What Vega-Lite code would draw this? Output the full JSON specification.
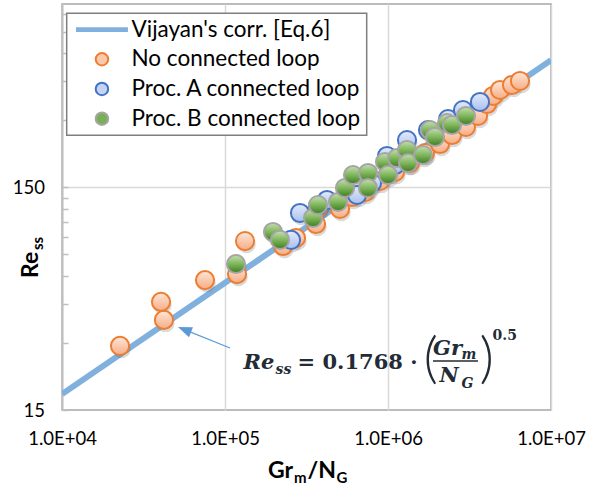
{
  "$schema": "https://vega.github.io/schema/vega-lite/v6.json",
  "width": 489,
  "height": 406,
  "autosize": {"type": "none"},
  "padding": {"left": 62, "top": 4, "right": 50, "bottom": 85},
  "background": "white",
  "config": {
    "font": "Lato",
    "view": {"stroke": "#a6a6a6", "strokeWidth": 1.5},
    "axis": {"labelFont": "Lato", "labelFontSize": 18.5, "labelColor": "#000000", "gridColor": "#d9d9d9", "gridWidth": 1.5, "domainColor": "#bfbfbf", "domainWidth": 1.5}
  },
  "data": {
    "values": [
      {"series": "Vijayan's corr. [Eq.6]", "gr": 10000, "re": 17.68},
      {"series": "Vijayan's corr. [Eq.6]", "gr": 10000000, "re": 559.1},
      {"series": "No connected loop", "gr": 22700, "re": 29.1},
      {"series": "No connected loop", "gr": 42200, "re": 38.1},
      {"series": "No connected loop", "gr": 40500, "re": 45.9},
      {"series": "No connected loop", "gr": 75400, "re": 57.5},
      {"series": "No connected loop", "gr": 118500, "re": 61.2},
      {"series": "No connected loop", "gr": 132700, "re": 86.1},
      {"series": "No connected loop", "gr": 226900, "re": 81.8},
      {"series": "No connected loop", "gr": 272600, "re": 88.9},
      {"series": "No connected loop", "gr": 361700, "re": 102.7},
      {"series": "No connected loop", "gr": 372100, "re": 121.2},
      {"series": "No connected loop", "gr": 507700, "re": 120},
      {"series": "No connected loop", "gr": 601300, "re": 135.8},
      {"series": "No connected loop", "gr": 722500, "re": 143},
      {"series": "No connected loop", "gr": 893000, "re": 160.3},
      {"series": "No connected loop", "gr": 1104000, "re": 176},
      {"series": "No connected loop", "gr": 1365000, "re": 193.1},
      {"series": "No connected loop", "gr": 1687000, "re": 214.1},
      {"series": "No connected loop", "gr": 2084000, "re": 235},
      {"series": "No connected loop", "gr": 2470000, "re": 257.9},
      {"series": "No connected loop", "gr": 3009000, "re": 280.2},
      {"series": "No connected loop", "gr": 3566000, "re": 314},
      {"series": "No connected loop", "gr": 4050000, "re": 355.4},
      {"series": "No connected loop", "gr": 4410000, "re": 386.1},
      {"series": "No connected loop", "gr": 4866000, "re": 410.9},
      {"series": "No connected loop", "gr": 5765000, "re": 432.6},
      {"series": "No connected loop", "gr": 6452000, "re": 451},
      {"series": "Proc. A connected loop", "gr": 254100, "re": 87.1},
      {"series": "Proc. A connected loop", "gr": 288500, "re": 115.1},
      {"series": "Proc. A connected loop", "gr": 372100, "re": 123.7},
      {"series": "Proc. A connected loop", "gr": 422400, "re": 131.7},
      {"series": "Proc. A connected loop", "gr": 645300, "re": 138.7},
      {"series": "Proc. A connected loop", "gr": 797700, "re": 157},
      {"series": "Proc. A connected loop", "gr": 986000, "re": 207.6},
      {"series": "Proc. A connected loop", "gr": 1104000, "re": 189.1},
      {"series": "Proc. A connected loop", "gr": 1308000, "re": 244.9},
      {"series": "Proc. A connected loop", "gr": 1760000, "re": 271.6},
      {"series": "Proc. A connected loop", "gr": 2334000, "re": 304.3},
      {"series": "Proc. A connected loop", "gr": 2884000, "re": 334},
      {"series": "Proc. A connected loop", "gr": 3667000, "re": 362.9},
      {"series": "Proc. B connected loop", "gr": 116800, "re": 67.9},
      {"series": "Proc. B connected loop", "gr": 197000, "re": 94.6},
      {"series": "Proc. B connected loop", "gr": 217500, "re": 87.1},
      {"series": "Proc. B connected loop", "gr": 346700, "re": 109.3},
      {"series": "Proc. B connected loop", "gr": 372100, "re": 125},
      {"series": "Proc. B connected loop", "gr": 493500, "re": 129},
      {"series": "Proc. B connected loop", "gr": 544700, "re": 149.1},
      {"series": "Proc. B connected loop", "gr": 610000, "re": 170.5},
      {"series": "Proc. B connected loop", "gr": 754000, "re": 174.1},
      {"series": "Proc. B connected loop", "gr": 754000, "re": 149.1},
      {"series": "Proc. B connected loop", "gr": 958500, "re": 195.1},
      {"series": "Proc. B connected loop", "gr": 1000000, "re": 170.5},
      {"series": "Proc. B connected loop", "gr": 1136000, "re": 203.3},
      {"series": "Proc. B connected loop", "gr": 1308000, "re": 220.9},
      {"series": "Proc. B connected loop", "gr": 1327000, "re": 193.1},
      {"series": "Proc. B connected loop", "gr": 1639000, "re": 209.7},
      {"series": "Proc. B connected loop", "gr": 1810000, "re": 271.6},
      {"series": "Proc. B connected loop", "gr": 1942000, "re": 252.6},
      {"series": "Proc. B connected loop", "gr": 2301000, "re": 292},
      {"series": "Proc. B connected loop", "gr": 2470000, "re": 286},
      {"series": "Proc. B connected loop", "gr": 3009000, "re": 314}
    ]
  },
  "layer": [
    {
      "transform": [{"filter": {"field": "series", "equal": "Vijayan's corr. [Eq.6]"}}],
      "mark": {"type": "line", "strokeWidth": 6, "clip": true},
      "encoding": {
        "x": {
          "field": "gr", "type": "quantitative",
          "scale": {"type": "log", "domain": [10000, 10000000], "nice": false},
          "axis": {"title": null, "values": [10000, 100000, 1000000, 10000000], "labelExpr": "'1.0E+0' + round(log(datum.value)/LN10)", "ticks": false, "labelPadding": 19, "labelFlush": false, "labelOverlap": false, "grid": true, "domain": false}
        },
        "y": {
          "field": "re", "type": "quantitative",
          "scale": {"type": "log", "domain": [15, 1000], "nice": false},
          "axis": {"title": null, "values": [15, 30, 45, 60, 75, 90, 105, 120, 135, 150, 300, 450, 600, 750, 900], "labelExpr": "datum.value == 15 || datum.value == 150 ? datum.label : ''", "tickSize": -6, "tickColor": "#bfbfbf", "tickWidth": 1.5, "labelPadding": 23.5, "labelFlush": false, "labelOverlap": false, "gridOpacity": {"condition": {"test": "datum.value == 150", "value": 1}, "value": 0}, "domainColor": "#bfbfbf", "domainWidth": 2}
        },
        "stroke": {
          "field": "series", "type": "nominal",
          "scale": {"domain": ["Vijayan's corr. [Eq.6]", "No connected loop", "Proc. A connected loop", "Proc. B connected loop"], "range": ["#80b1de", "#ed7d31", "#4472c4", "#a5a5a5"]},
          "legend": {
            "title": null, "orient": "none", "legendX": 4.7, "legendY": 9.3,
            "labelFont": "Lato", "labelFontSize": 22.5, "labelColor": "#000000", "labelLimit": 400,
            "symbolSize": 156, "symbolStrokeWidth": 2, "symbolOpacity": 1,
            "symbolOffset": 19, "labelOffset": 18.3, "padding": 5, "rowPadding": 6.7,
            "strokeColor": "#7f7f7f", "fillColor": "#ffffff",
            "encode": {
              "legend": {"update": {"strokeWidth": {"value": 1.5}}},
              "symbols": {"update": {
                "shape": {"signal": "datum.value === 'No connected loop' || datum.value === 'Proc. A connected loop' || datum.value === 'Proc. B connected loop' ? 'circle' : 'M-4,-0.22H4V0.22H-4Z'"},
                "fill": {"signal": "datum.value === 'No connected loop' ? '#f9c9ab' : datum.value === 'Proc. A connected loop' ? '#c3d4f5' : datum.value === 'Proc. B connected loop' ? '#78b155' : '#80b1de'"},
                "stroke": {"signal": "datum.value === 'No connected loop' ? '#ed7d31' : datum.value === 'Proc. A connected loop' ? '#4472c4' : datum.value === 'Proc. B connected loop' ? '#a5a5a5' : '#80b1de'"},
                "opacity": {"value": 1}
              }}
            }
          }
        }
      }
    },
    {
      "transform": [{"filter": {"not": {"field": "series", "equal": "Vijayan's corr. [Eq.6]"}}}],
      "mark": {"type": "point", "filled": true, "size": 340, "strokeWidth": 0, "opacity": 0.22, "fill": "#555555", "xOffset": 1.5, "yOffset": 3},
      "encoding": {
        "x": {"field": "gr", "type": "quantitative"},
        "y": {"field": "re", "type": "quantitative"}
      }
    },
    {
      "transform": [{"filter": {"field": "series", "equal": "No connected loop"}}],
      "mark": {"type": "point", "filled": true, "size": 330, "strokeWidth": 2, "opacity": 1,
        "fill": {"gradient": "linear", "x1": 0, "y1": 0, "x2": 0, "y2": 1, "stops": [{"offset": 0, "color": "#fde6d8"}, {"offset": 1, "color": "#f7ad85"}]}},
      "encoding": {
        "x": {"field": "gr", "type": "quantitative"},
        "y": {"field": "re", "type": "quantitative"},
        "stroke": {"field": "series", "type": "nominal"}
      }
    },
    {
      "transform": [{"filter": {"field": "series", "equal": "Proc. A connected loop"}}],
      "mark": {"type": "point", "filled": true, "size": 330, "strokeWidth": 2, "opacity": 1,
        "fill": {"gradient": "linear", "x1": 0, "y1": 0, "x2": 0, "y2": 1, "stops": [{"offset": 0, "color": "#e3ebfb"}, {"offset": 1, "color": "#a8c0ee"}]}},
      "encoding": {
        "x": {"field": "gr", "type": "quantitative"},
        "y": {"field": "re", "type": "quantitative"},
        "stroke": {"field": "series", "type": "nominal"}
      }
    },
    {
      "transform": [{"filter": {"field": "series", "equal": "Proc. B connected loop"}}],
      "mark": {"type": "point", "filled": true, "size": 330, "strokeWidth": 2, "opacity": 1,
        "fill": {"gradient": "linear", "x1": 0, "y1": 0, "x2": 0, "y2": 1, "stops": [{"offset": 0, "color": "#c6e0b4"}, {"offset": 0.55, "color": "#78b153"}, {"offset": 1, "color": "#3d7a25"}]}},
      "encoding": {
        "x": {"field": "gr", "type": "quantitative"},
        "y": {"field": "re", "type": "quantitative"},
        "stroke": {"field": "series", "type": "nominal"}
      }
    },
    {
      "data": {"values": [{}]},
      "mark": {"type": "rule", "stroke": "#5b9bd5", "strokeWidth": 1.2},
      "encoding": {"x": {"datum": 107300}, "y": {"datum": 28.5}, "x2": {"datum": 56400}, "y2": {"datum": 34.45}}
    },
    {
      "data": {"values": [{}]},
      "mark": {"type": "point", "shape": "M1,0L-1,-0.75L-1,0.75Z", "angle": 202, "size": 200, "filled": true, "fill": "#5b9bd5", "opacity": 1, "strokeWidth": 0},
      "encoding": {"x": {"datum": 56400}, "y": {"datum": 34.45}}
    },
    {
      "data": {"values": [{}]},
      "mark": {"type": "text", "text": "Re", "font": "DejaVu Serif", "fontSize": 21, "fontWeight": "bold", "fontStyle": "italic", "align": "left", "baseline": "alphabetic", "dx": 0, "dy": 0, "color": "#222b36"},
      "encoding": {"x": {"datum": 130000}, "y": {"datum": 23}}
    },
    {
      "data": {"values": [{}]},
      "mark": {"type": "text", "text": "ss", "font": "DejaVu Serif", "fontSize": 14, "fontWeight": "bold", "fontStyle": "italic", "align": "left", "baseline": "alphabetic", "dx": 32, "dy": 5, "color": "#222b36"},
      "encoding": {"x": {"datum": 130000}, "y": {"datum": 23}}
    },
    {
      "data": {"values": [{}]},
      "mark": {"type": "text", "text": "= 0.1768 ·", "font": "DejaVu Serif", "fontSize": 21, "fontWeight": "bold", "align": "left", "baseline": "alphabetic", "dx": 54, "dy": 0, "color": "#222b36"},
      "encoding": {"x": {"datum": 130000}, "y": {"datum": 23}}
    },
    {
      "data": {"values": [{}]},
      "mark": {"type": "text", "text": "(", "font": "Lato", "fontSize": 56, "fontWeight": 300, "align": "left", "baseline": "alphabetic", "dx": 180, "dy": 8, "color": "#222b36"},
      "encoding": {"x": {"datum": 130000}, "y": {"datum": 23}}
    },
    {
      "data": {"values": [{}]},
      "mark": {"type": "text", "text": "Gr", "font": "DejaVu Serif", "fontSize": 21, "fontWeight": "bold", "fontStyle": "italic", "align": "left", "baseline": "alphabetic", "dx": 189.5, "dy": -14, "color": "#222b36"},
      "encoding": {"x": {"datum": 130000}, "y": {"datum": 23}}
    },
    {
      "data": {"values": [{}]},
      "mark": {"type": "text", "text": "m", "font": "DejaVu Serif", "fontSize": 14, "fontWeight": "bold", "fontStyle": "italic", "align": "left", "baseline": "alphabetic", "dx": 218, "dy": -10, "color": "#222b36"},
      "encoding": {"x": {"datum": 130000}, "y": {"datum": 23}}
    },
    {
      "data": {"values": [{}]},
      "mark": {"type": "rule", "stroke": "#222b36", "strokeWidth": 1.5},
      "encoding": {"x": {"datum": 1888000}, "x2": {"datum": 3565000}, "y": {"datum": 24.9}}
    },
    {
      "data": {"values": [{}]},
      "mark": {"type": "text", "text": "N", "font": "DejaVu Serif", "fontSize": 21, "fontWeight": "bold", "fontStyle": "italic", "align": "left", "baseline": "alphabetic", "dx": 196, "dy": 13.5, "color": "#222b36"},
      "encoding": {"x": {"datum": 130000}, "y": {"datum": 23}}
    },
    {
      "data": {"values": [{}]},
      "mark": {"type": "text", "text": "G", "font": "DejaVu Serif", "fontSize": 14, "fontWeight": "bold", "fontStyle": "italic", "align": "left", "baseline": "alphabetic", "dx": 218, "dy": 19, "color": "#222b36"},
      "encoding": {"x": {"datum": 130000}, "y": {"datum": 23}}
    },
    {
      "data": {"values": [{}]},
      "mark": {"type": "text", "text": ")", "font": "Lato", "fontSize": 56, "fontWeight": 300, "align": "left", "baseline": "alphabetic", "dx": 236, "dy": 8, "color": "#222b36"},
      "encoding": {"x": {"datum": 130000}, "y": {"datum": 23}}
    },
    {
      "data": {"values": [{}]},
      "mark": {"type": "text", "text": "0.5", "font": "DejaVu Serif", "fontSize": 14, "fontWeight": "bold", "align": "left", "baseline": "alphabetic", "dx": 249, "dy": -29, "color": "#222b36"},
      "encoding": {"x": {"datum": 130000}, "y": {"datum": 23}}
    },
    {
      "data": {"values": [{}]},
      "mark": {"type": "text", "text": "Gr", "font": "Lato", "fontSize": 23, "fontWeight": "bold", "align": "left", "baseline": "alphabetic", "dx": 0, "dy": 0, "color": "#000000"},
      "encoding": {"x": {"datum": 183600}, "y": {"datum": 7.42}}
    },
    {
      "data": {"values": [{}]},
      "mark": {"type": "text", "text": "m", "font": "Lato", "fontSize": 15, "fontWeight": "bold", "align": "left", "baseline": "alphabetic", "dx": 26, "dy": 5, "color": "#000000"},
      "encoding": {"x": {"datum": 183600}, "y": {"datum": 7.42}}
    },
    {
      "data": {"values": [{}]},
      "mark": {"type": "text", "text": "/N", "font": "Lato", "fontSize": 23, "fontWeight": "bold", "align": "left", "baseline": "alphabetic", "dx": 39.5, "dy": 0, "color": "#000000"},
      "encoding": {"x": {"datum": 183600}, "y": {"datum": 7.42}}
    },
    {
      "data": {"values": [{}]},
      "mark": {"type": "text", "text": "G", "font": "Lato", "fontSize": 15, "fontWeight": "bold", "align": "left", "baseline": "alphabetic", "dx": 68.5, "dy": 5, "color": "#000000"},
      "encoding": {"x": {"datum": 183600}, "y": {"datum": 7.42}}
    },
    {
      "data": {"values": [{}]},
      "mark": {"type": "text", "text": "Re", "font": "Lato", "fontSize": 23, "fontWeight": "bold", "align": "left", "baseline": "alphabetic", "angle": 270, "dx": 0, "dy": 0, "color": "#000000"},
      "encoding": {"x": {"datum": 7127}, "y": {"datum": 58.75}}
    },
    {
      "data": {"values": [{}]},
      "mark": {"type": "text", "text": "ss", "font": "Lato", "fontSize": 15, "fontWeight": "bold", "align": "left", "baseline": "alphabetic", "angle": 270, "dx": 28, "dy": 5, "color": "#000000"},
      "encoding": {"x": {"datum": 7127}, "y": {"datum": 58.75}}
    }
  ]
}
